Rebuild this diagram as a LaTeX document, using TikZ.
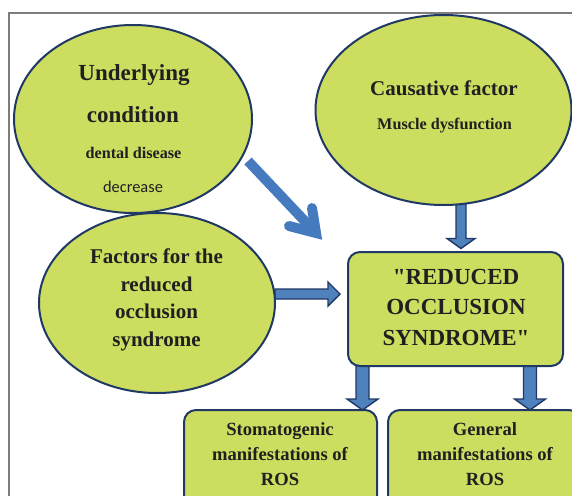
\documentclass[tikz,border=0pt]{standalone}
\usepackage{fontspec}
\setmainfont{Liberation Serif}[Ligatures=TeXOff]
\newfontfamily\carl{Carlito}
\usetikzlibrary{calc,shapes.geometric,backgrounds}
\definecolor{fillg}{RGB}{205,221,96}
\definecolor{edgec}{RGB}{31,56,100}
\definecolor{arrb}{RGB}{70,122,190}
\definecolor{arrf}{RGB}{79,129,189}
\definecolor{txtc}{RGB}{35,31,32}
\definecolor{framec}{RGB}{125,125,125}
\tikzset{
  ellnode/.style={ellipse, draw=edgec, fill=fillg, line width=2pt, inner sep=0pt, outer sep=0pt},
  boxnode/.style={rectangle, rounded corners=12pt, draw=edgec, fill=fillg, line width=2pt, inner sep=0pt, outer sep=0pt},
  blockarr/.style={fill=arrf, draw=edgec, line width=1.4pt, line join=miter},
  diagarr/.style={draw=arrb, line width=10pt},
  framestyle/.style={draw=framec, line width=1.2pt},
  lbl/.style={anchor=base, inner sep=0pt, outer sep=0pt, text=txtc},
  fbig/.style={font=\bfseries\fontsize{23}{27}\selectfont},
  fmid/.style={font=\bfseries\fontsize{21}{25}\selectfont},
  fsmall/.style={font=\bfseries\fontsize{16.2}{19}\selectfont},
  fbox/.style={font=\bfseries\fontsize{18.6}{22}\selectfont},
  fsans/.style={font=\carl\fontsize{16.4}{19}\selectfont},
}
\newcommand{\dnarrow}[5]{%
  \filldraw[blockarr] let \p1=(#1), \p2=(#2) in
    (\x1-#3pt,\y1) -- (\x1-#3pt,\y2+#5pt) -- (\x1-#4pt,\y2+#5pt) -- (\x1,\y2)
    -- (\x1+#4pt,\y2+#5pt) -- (\x1+#3pt,\y2+#5pt) -- (\x1+#3pt,\y1) -- cycle;}
\newcommand{\rtarrow}[5]{%
  \filldraw[blockarr] let \p1=(#1), \p2=(#2) in
    (\x1,\y1+#3pt) -- (\x2-#5pt,\y1+#3pt) -- (\x2-#5pt,\y1+#4pt) -- (\x2,\y1)
    -- (\x2-#5pt,\y1-#4pt) -- (\x2-#5pt,\y1-#3pt) -- (\x1,\y1-#3pt) -- cycle;}
\begin{document}
\begin{tikzpicture}[x=1pt,y=-1pt]
\useasboundingbox (0,0) rectangle (572,495);
\draw[framestyle] (9,496) -- (9,13) -- (573,13);

% shapes
\node[ellnode, minimum width=238pt, minimum height=188pt] (e1) at (133,119) {};
\node[ellnode, minimum width=256pt, minimum height=190pt] (e2) at (443.5,110) {};
\node[ellnode, minimum width=236pt, minimum height=180pt] (e3) at (157,303) {};
\node[boxnode, minimum width=215pt, minimum height=114pt] (main) at (455.5,309) {};
\node[boxnode, minimum width=193pt, minimum height=100pt] (b1) at (280.5,460) {};
\node[boxnode, minimum width=193pt, minimum height=100pt] (b2) at (484.5,460) {};

% texts
\node[lbl, fbig] (t1a) at (134,80) {Underlying};
\node[lbl, fbig] (t1b) at (133,122) {condition};
\node[lbl, fsmall] (t1c) at (133.5,158) {dental disease};
\node[lbl, fsans] (t1d) at (133,192) {decrease};
\node[lbl, fmid] (t2a) at (444,95) {Causative factor};
\node[lbl, fsmall] (t2b) at (444.5,129) {Muscle dysfunction};
\node[lbl, fmid] (t3a) at (156.5,263) {Factors for the};
\node[lbl, fmid] (t3b) at (156.5,291) {reduced};
\node[lbl, fmid] (t3c) at (156.5,318.5) {occlusion};
\node[lbl, fmid] (t3d) at (156.5,346.5) {syndrome};
\node[lbl, fbig] (tma) at (456,284) {"REDUCED};
\node[lbl, fbig] (tmb) at (456,314.5) {OCCLUSION};
\node[lbl, fbig] (tmc) at (456,345) {SYNDROME"};
\node[lbl, fbox] (tb1a) at (280,435) {Stomatogenic};
\node[lbl, fbox] (tb1b) at (280,460) {manifestations of};
\node[lbl, fbox] (tb1c) at (280,485) {ROS};
\node[lbl, fbox] (tb2a) at (485,435) {General};
\node[lbl, fbox] (tb2b) at (485,460) {manifestations of};
\node[lbl, fbox] (tb2c) at (485,485) {ROS};

% connector end points
\coordinate (a1t) at ([xshift=5.5pt]main.north);
\coordinate (a1s) at ($(a1t |- e2.south)+(0,-4)$);
\coordinate (a1t2) at ($(a1t)+(0,-3.5)$);
\coordinate (a2s) at (275,294);
\coordinate (a2t) at (340,294);
\coordinate (a3s) at ($(main.south)+(-93,-6)$);
\coordinate (a3t) at (a3s |- b1.north);
\coordinate (a4s) at ($(main.south)+(74.5,-6)$);
\coordinate (a4t) at (a4s |- b2.north);
\coordinate (ds) at (248,161);
\coordinate (dv) at (316,233);
\coordinate (db1) at (312,208);
\coordinate (db2) at (289,226);

\begin{scope}[on background layer]
\dnarrow{a1s}{a1t2}{5}{14}{10}
\rtarrow{a2s}{a2t}{5}{12}{12}
\dnarrow{a3s}{a3t}{6.5}{15.5}{11}
\dnarrow{a4s}{a4t}{6.5}{15.5}{11}
\end{scope}

% diagonal arrow
\draw[diagarr, line cap=butt] (ds) -- (dv);
\draw[diagarr, line cap=round, line join=miter] (db1) -- (dv) -- (db2);
\end{tikzpicture}
\end{document}
